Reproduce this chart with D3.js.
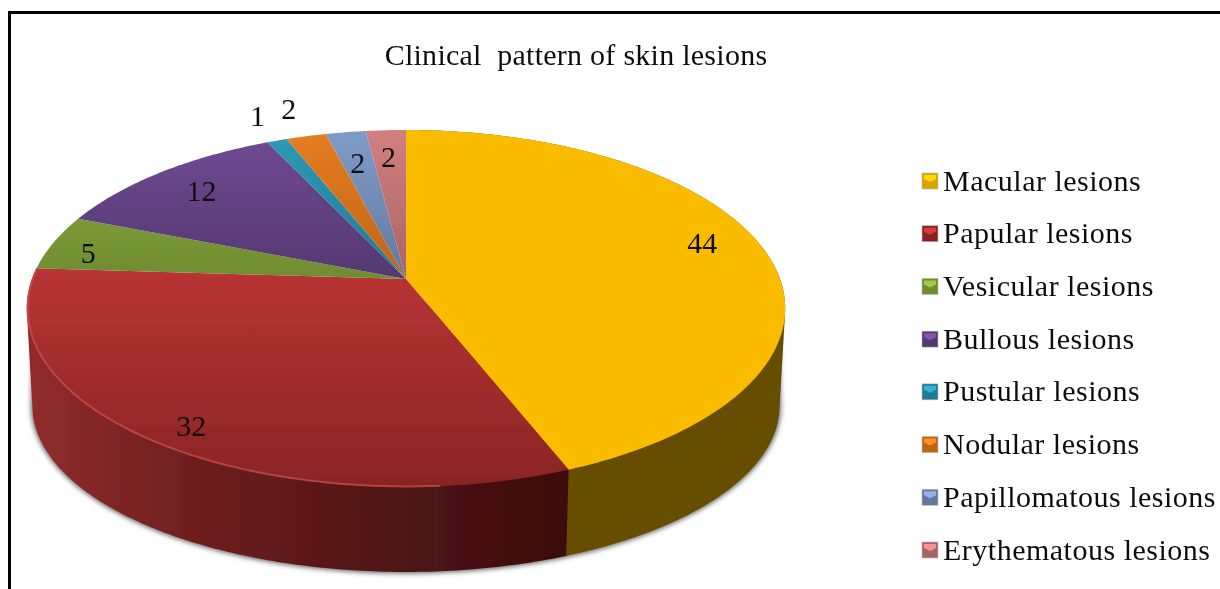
<!DOCTYPE html>
<html lang="en">
<head>
    <meta charset="UTF-8">
    <title>Clinical pattern of skin lesions</title>
    <script src="https://d3js.org/d3.v7.min.js"></script>
    <style>
        html, body { margin: 0; padding: 0; background: #fff; overflow: hidden; }
        svg { display: block; }
        text { font-family: "Liberation Serif", serif; fill: #111; white-space: pre; }
    </style>
</head>
<body>
    <svg width="1220" height="589"></svg>

    <script>
        const title = "Clinical  pattern of skin lesions";
        const categories = ["Macular lesions", "Papular lesions", "Vesicular lesions", "Bullous lesions",
            "Pustular lesions", "Nodular lesions", "Papillomatous lesions", "Erythematous lesions"];
        const values = [44, 32, 5, 12, 1, 2, 2, 2];
        const topColors = ["#fbbc00", "#b83434", "#8cae3f", "#714b95", "#2e9ab8", "#e87d22", "#7f9cc8", "#d28080"];
        const bottomColors = ["#fbbc00", "#8a2424", "#6f8c30", "#543870", "#217a93", "#bd6517", "#64799c", "#a86464"];

        // label distance from the pie centre, as a fraction of the radius
        const labelRadius = [0.85, 0.9, 0.89, 0.815, 1.207, 1.22, 0.758, 0.79];
        const labelNudge = [[-8, -10], [10, 3], [-3, 6], [-1, 0], [3, -1], [1, -1], [-1, -1], [-1, -1]];

        const svg = d3.select("svg");
        const defs = svg.append("defs");

        // the pie is tilted, so the circle goes through a small perspective projection
        const cx = 406, cy = 279, rx = 374, ry = 173.6, persp = 0.165;
        const baseDrop = 99.6, baseScaleX = 0.985, baseScaleY = 0.93;

        function project(angle, r, base) {
            const u = Math.sin(angle) * r, v = Math.cos(angle) * r;
            const w = 1 + persp * v;
            if (base) return [cx + rx * baseScaleX * u / w, cy - ry * baseScaleY * v / w + baseDrop];
            return [cx + rx * u / w, cy - ry * v / w];
        }

        function arcPoints(a0, a1, r, base) {
            const n = Math.max(2, Math.ceil((a1 - a0) * 80));
            return d3.range(n + 1).map(i => project(a0 + (a1 - a0) * i / n, r, base));
        }

        const line = d3.line();

        // wall between top rim and base rim, the hull keeps the straight sides at the widest points
        function wallPath(a0, a1, topRadius) {
            const hull = d3.polygonHull(arcPoints(a0, a1, topRadius, false).concat(arcPoints(a0, a1, 1, true)));
            return line(hull) + "Z";
        }

        const slices = d3.pie().sort(null).value(d => d)(values);

        const blur = defs.append("filter").attr("id", "shadow")
            .attr("x", "-10%").attr("y", "-10%").attr("width", "120%").attr("height", "120%");
        blur.append("feGaussianBlur").attr("stdDeviation", 2.6);

        const soft = defs.append("filter").attr("id", "soft")
            .attr("x", "-5%").attr("y", "-5%").attr("width", "110%").attr("height", "110%");
        soft.append("feGaussianBlur").attr("stdDeviation", 0.5);

        topColors.forEach((c, i) => {
            const g = defs.append("linearGradient").attr("id", "top" + i)
                .attr("gradientUnits", "userSpaceOnUse")
                .attr("x1", 0).attr("x2", 0)
                .attr("y1", i === 1 ? cy - 10 : cy - 150)
                .attr("y2", i === 1 ? cy + 208 : cy);
            g.append("stop").attr("offset", 0).attr("stop-color", c);
            g.append("stop").attr("offset", 1).attr("stop-color", bottomColors[i]);
        });

        const sideRed = defs.append("linearGradient").attr("id", "sideRed")
            .attr("gradientUnits", "userSpaceOnUse")
            .attr("x1", cx - 379).attr("x2", cx + 162).attr("y1", 0).attr("y2", 0);
        [[0, "#922c2c"], [0.3, "#6f1f1f"], [0.6, "#551616"], [1, "#3c0c0e"]].forEach(s =>
            sideRed.append("stop").attr("offset", s[0]).attr("stop-color", s[1]));

        // soft shadow along the lower edge, pulled in at the top so it only shows further down
        svg.append("path")
            .attr("d", wallPath(slices[0].startAngle + 1.75, slices[1].endAngle - 0.2, 0.98))
            .attr("fill", "#666")
            .attr("stroke", "#666")
            .attr("stroke-width", 3)
            .attr("filter", "url(#shadow)");

        const pieLayer = svg.append("g").attr("filter", "url(#soft)");

        // side wall, only the two front slices show
        const sideFill = ["#664e00", "url(#sideRed)"];
        [0, 1].forEach(i => {
            pieLayer.append("path")
                .attr("d", wallPath(slices[i].startAngle, slices[i].endAngle, 1))
                .attr("fill", sideFill[i]);
        });

        // top face
        pieLayer.selectAll("path.slice")
            .data(slices)
            .join("path")
            .attr("class", "slice")
            .attr("d", s => line([project(0, 0, false)].concat(arcPoints(s.startAngle, s.endAngle, 1, false))) + "Z")
            .attr("fill", (s, i) => `url(#top${i})`);

        // light rim on the red slice
        pieLayer.append("path")
            .attr("d", line(arcPoints(slices[1].startAngle + 0.3, slices[1].endAngle, 0.998, false)))
            .attr("fill", "none")
            .attr("stroke", "#cc5050")
            .attr("stroke-opacity", 0.7)
            .attr("stroke-width", 2);

        const textLayer = svg.append("g").attr("filter", "url(#soft)");

        textLayer.selectAll("text.value")
            .data(slices)
            .join("text")
            .attr("class", "value")
            .attr("text-anchor", "middle")
            .attr("font-size", 30)
            .attr("dy", "0.35em")
            .attr("transform", (s, i) => {
                const p = project((s.startAngle + s.endAngle) / 2, labelRadius[i], false);
                return `translate(${p[0] + labelNudge[i][0]},${p[1] + labelNudge[i][1]})`;
            })
            .text(s => s.data);

        textLayer.append("text")
            .attr("x", 576).attr("y", 65)
            .attr("text-anchor", "middle")
            .attr("font-size", 30)
            .attr("letter-spacing", 0.26)
            .text(title);

        // legend
        const legendY = d3.scalePoint().domain(categories).range([181, 550]);
        const legend = svg.selectAll("g.legend")
            .data(categories)
            .join("g")
            .attr("class", "legend")
            .attr("filter", "url(#soft)")
            .attr("transform", d => `translate(922,${legendY(d)})`);

        const box = 16;
        legend.append("rect")
            .attr("y", -box / 2).attr("width", box).attr("height", box)
            .attr("fill", (d, i) => bottomColors[i] === topColors[i] ? "#d9a300" : bottomColors[i])
            .attr("stroke", "#bbb").attr("stroke-width", 0.6);
        legend.append("path")
            .attr("d", line([[2, -box / 2 + 2], [box - 2, -box / 2 + 2], [box - 2, -2], [box / 2, 1], [2, -2]]))
            .attr("fill", (d, i) => d3.color(topColors[i]).brighter(0.4));

        textLayer.selectAll("text.legend-label")
            .data(categories)
            .join("text")
            .attr("class", "legend-label")
            .attr("x", 943)
            .attr("y", d => legendY(d))
            .attr("dy", "0.32em")
            .attr("font-size", 30)
            .attr("letter-spacing", 0.5)
            .text(d => d);

        // outer frame
        svg.append("path")
            .attr("d", line([[9.5, 589], [9.5, 12.5], [1220, 12.5]]))
            .attr("fill", "none")
            .attr("stroke", "#000")
            .attr("stroke-width", 3);
    </script>
</body>
</html>
